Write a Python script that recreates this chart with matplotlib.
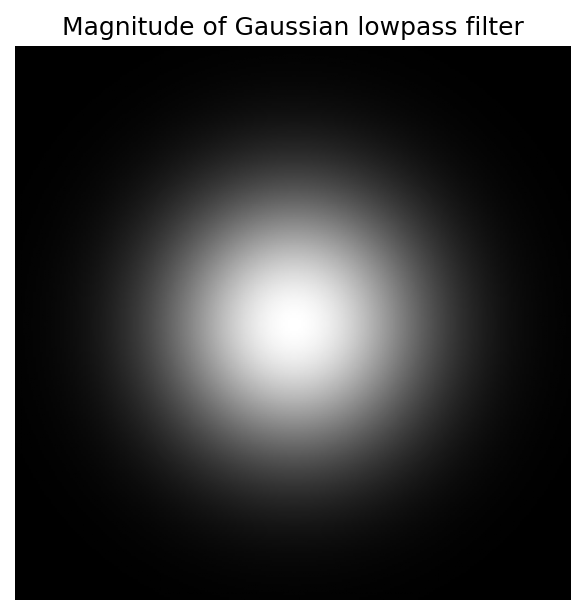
import numpy as np
import matplotlib
matplotlib.use("Agg")
import matplotlib.pyplot as plt

# filter parameters
size = 256          # filter is size x size samples
sigma = 42.0        # gaussian spread in samples
title = "Magnitude of Gaussian lowpass filter"

u = np.arange(size) - size / 2
U, V = np.meshgrid(u, u)
H = np.exp(-(U ** 2 + V ** 2) / (2 * sigma ** 2))

fig = plt.figure(figsize=(5.84, 6.15), dpi=100)
ax = fig.add_axes([15 / 584, 15 / 615, 556 / 584, 554 / 615])
ax.imshow(np.abs(H), cmap="gray", aspect="auto")
ax.set_title(title, fontsize=18, pad=8)
ax.axis("off")
fig.savefig("out.png", dpi=100)
